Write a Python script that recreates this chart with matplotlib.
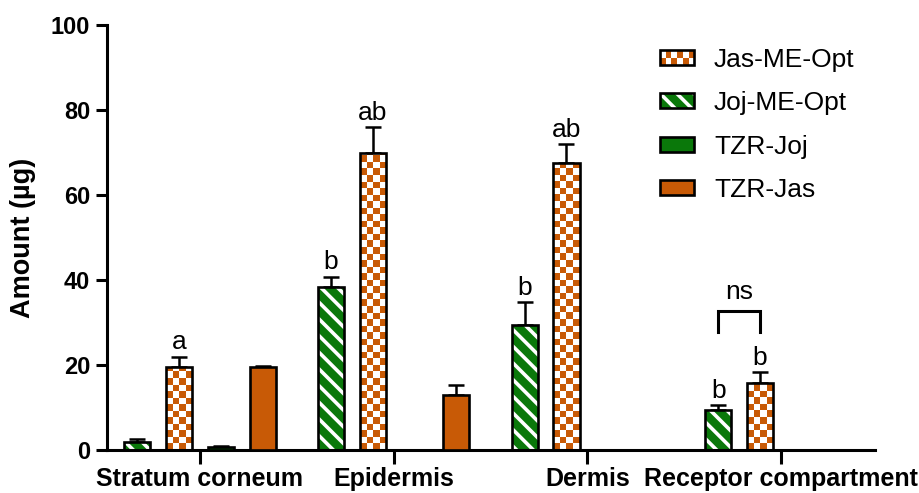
import matplotlib
matplotlib.use("Agg")
import matplotlib.pyplot as plt
import numpy as np
from matplotlib.legend_handler import HandlerBase
from matplotlib.patches import Rectangle

plt.rcParams["font.family"] = ["Liberation Sans", "DejaVu Sans"]
plt.rcParams["hatch.linewidth"] = 2.6

# data (amount in ug)
compartments = ["Stratum corneum", "Epidermis", "Dermis", "Receptor compartment"]
joj_me = [2.0, 38.3, 29.4, 9.4]
joj_me_err = [0.5, 2.5, 5.5, 1.2]
jas_me = [19.5, 70.0, 67.6, 15.7]
jas_me_err = [2.5, 6.0, 4.4, 2.6]
tzr_joj = [0.7, 0.0, 0.0, 0.0]
tzr_joj_err = [0.2, 0.0, 0.0, 0.0]
tzr_jas = [19.5, 12.9, 0.0, 0.0]
tzr_jas_err = [0.3, 2.4, 0.0, 0.0]
joj_letters = ["", "b", "b", "b"]
jas_letters = ["a", "ab", "ab", "b"]
y_ticks = [0, 20, 40, 60, 80, 100]

GREEN = "#0a780a"
ORANGE = "#c85a06"
WHITE = "#ffffff"
EDGE_LW = 1.9

fig = plt.figure(figsize=(9.19, 4.93), dpi=100)
ax = fig.add_axes([107 / 919, 43 / 493, 768 / 919, 425 / 493])
ax.set_xlim(-0.48, 3.485)
ax.set_ylim(0, 100)

x = np.arange(len(compartments))
step = 0.216
width = 0.135
offsets = np.array([-1.5, -0.5, 0.5, 1.5]) * step


def draw_errors(xs, vals, errs):
    xs, vals, errs = np.asarray(xs), np.asarray(vals), np.asarray(errs)
    keep = errs > 0
    ax.errorbar(xs[keep], vals[keep], yerr=[np.zeros(keep.sum()), errs[keep]],
                fmt="none", ecolor="black", elinewidth=1.8, capsize=5.5,
                capthick=1.8, zorder=1)


def checker_fill(patch, ncols=4):
    x0, w, h = patch.get_x(), patch.get_width(), patch.get_height()
    p0 = ax.transData.transform((x0, 0))
    p1 = ax.transData.transform((x0 + w, h))
    cell = (p1[0] - p0[0]) / ncols
    nrows = max(1, int(round((p1[1] - p0[1]) / cell)))
    grid = np.indices((nrows, ncols)).sum(axis=0) % 2
    o = np.array(matplotlib.colors.to_rgb(ORANGE))
    wt = np.ones(3)
    img = np.where(grid[..., None] == 0, o, wt)
    im = ax.imshow(img, extent=(x0, x0 + w, 0, nrows * cell * h / (p1[1] - p0[1])),
                   origin="lower", interpolation="nearest", aspect="auto", zorder=2)
    im.set_clip_path(patch)


# Joj-ME-Opt: green with white diagonal stripes
xj = x + offsets[0]
ax.bar(xj, joj_me, width, color=GREEN, edgecolor=WHITE, hatch="\\\\", linewidth=0, zorder=2)
ax.bar(xj, joj_me, width, facecolor="none", edgecolor="black", linewidth=EDGE_LW, zorder=3)
draw_errors(xj, joj_me, joj_me_err)

# Jas-ME-Opt: orange/white checkerboard
xa = x + offsets[1]
bars_jas = ax.bar(xa, jas_me, width, color=WHITE, linewidth=0, zorder=2)
for p in bars_jas:
    checker_fill(p)
ax.bar(xa, jas_me, width, facecolor="none", edgecolor="black", linewidth=EDGE_LW, zorder=3)
draw_errors(xa, jas_me, jas_me_err)

# TZR-Joj and TZR-Jas: solid
for off, vals, errs, col in [(offsets[2], tzr_joj, tzr_joj_err, GREEN),
                             (offsets[3], tzr_jas, tzr_jas_err, ORANGE)]:
    xs = x + off
    v = np.asarray(vals)
    shown = v > 0
    ax.bar(xs[shown], v[shown], width, color=col, edgecolor="black", linewidth=EDGE_LW, zorder=3)
    draw_errors(xs, vals, errs)

ax.set_xlim(-0.48, 3.485)
ax.set_ylim(0, 100)

# significance letters
for xs, vals, errs, labels in [(xj, joj_me, joj_me_err, joj_letters),
                               (xa, jas_me, jas_me_err, jas_letters)]:
    for xi, v, e, lab in zip(xs, vals, errs, labels):
        if lab:
            ax.text(xi, v + e + 0.5, lab, ha="center", va="bottom", fontsize=19)

# ns bracket over receptor compartment
bx0, bx1 = xj[3], xa[3]
ax.plot([bx0, bx0, bx1, bx1], [27.8, 32.7, 32.7, 27.8], color="black", lw=2.2,
        solid_joinstyle="miter", clip_on=False)
ax.text((bx0 + bx1) / 2, 34.3, "ns", ha="center", va="bottom", fontsize=19)

# axes styling
for s in ["top", "right"]:
    ax.spines[s].set_visible(False)
for s in ["left", "bottom"]:
    ax.spines[s].set_linewidth(2.2)
ax.set_xticks(x)
ax.set_xticklabels(compartments, fontsize=18, fontweight="bold")
ax.set_yticks(y_ticks)
ax.set_yticklabels([str(t) for t in y_ticks], fontsize=17, fontweight="bold")
ax.tick_params(axis="x", length=10, width=2.2, pad=2)
ax.tick_params(axis="y", length=8, width=2.2, pad=4)
ax.set_ylabel("Amount (µg)", fontsize=19.5, fontweight="bold")
ax.yaxis.set_label_coords(-0.093, 0.5)


class SwatchHandler(HandlerBase):
    def __init__(self, kind, color):
        super().__init__()
        self.kind = kind
        self.color = color

    def create_artists(self, legend, orig_handle, xdescent, ydescent, width, height, fontsize, trans):
        x0, y0 = -xdescent, -ydescent
        arts = []
        if self.kind == "checker":
            arts.append(Rectangle((x0, y0), width, height, facecolor=WHITE, lw=0, transform=trans))
            ncols, nrows = 6, 2
            cw, ch = width / ncols, height / nrows
            for i in range(ncols):
                for j in range(nrows):
                    if (i + j) % 2 == 0:
                        arts.append(Rectangle((x0 + i * cw, y0 + j * ch), cw, ch,
                                              facecolor=self.color, lw=0, transform=trans))
        elif self.kind == "stripe":
            arts.append(Rectangle((x0, y0), width, height, facecolor=self.color, edgecolor=WHITE,
                                  hatch="\\\\", lw=0, transform=trans))
        else:
            arts.append(Rectangle((x0, y0), width, height, facecolor=self.color, lw=0, transform=trans))
        arts.append(Rectangle((x0, y0), width, height, facecolor="none", edgecolor="black",
                              lw=EDGE_LW, transform=trans))
        return arts


legend_labels = ["Jas-ME-Opt", "Joj-ME-Opt", "TZR-Joj", "TZR-Jas"]
proxies = [Rectangle((0, 0), 1, 1) for _ in legend_labels]
handlers = {
    proxies[0]: SwatchHandler("checker", ORANGE),
    proxies[1]: SwatchHandler("stripe", GREEN),
    proxies[2]: SwatchHandler("solid", GREEN),
    proxies[3]: SwatchHandler("solid", ORANGE),
}
fig.legend(proxies, legend_labels, handler_map=handlers, loc="upper left",
           bbox_to_anchor=(660 / 919, 1 - 48 / 493), frameon=False, fontsize=19,
           handlelength=1.3, handleheight=0.5, labelspacing=0.73, handletextpad=0.75,
           borderaxespad=0, borderpad=0)

fig.savefig("out.png", dpi=100)
